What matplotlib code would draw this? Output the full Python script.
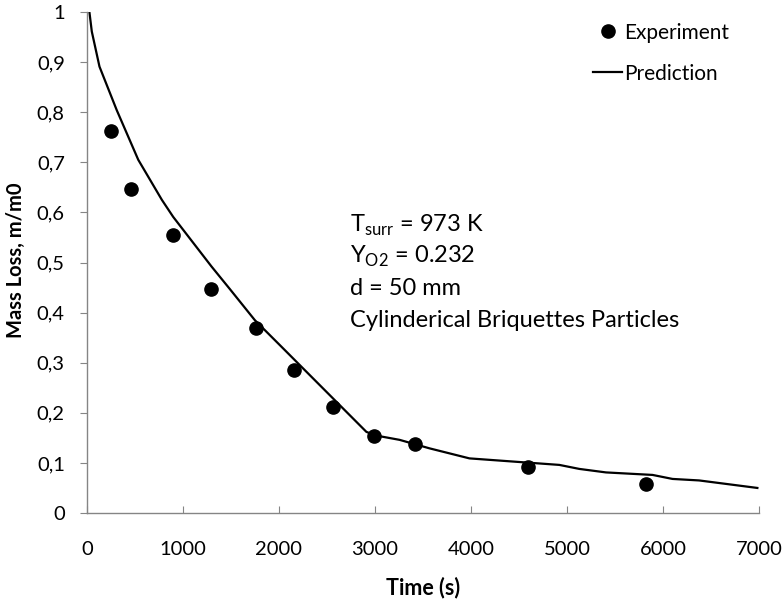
import matplotlib
matplotlib.use("Agg")
import matplotlib.pyplot as plt

plt.rcParams["font.family"] = ["Lato", "DejaVu Sans"]
plt.rcParams["mathtext.fontset"] = "custom"
plt.rcParams["mathtext.rm"] = "Lato"

# experimental points
exp_time = [247, 458, 895, 1290, 1758, 2154, 2560, 2986, 3413, 4589, 5824]
exp_mass = [0.762, 0.647, 0.555, 0.447, 0.369, 0.285, 0.212, 0.154, 0.138, 0.092, 0.057]

# model curve
pred_time = [25, 50, 130, 310, 534, 780, 898, 1297, 1488, 1748, 2025, 2910, 3000,
             3256, 3569, 3984, 4920, 5128, 5406, 5891, 6099, 6376, 6983]
pred_mass = [1.0, 0.961, 0.891, 0.804, 0.705, 0.625, 0.591, 0.492, 0.447, 0.385, 0.332, 0.162, 0.155,
             0.146, 0.129, 0.109, 0.096, 0.088, 0.081, 0.076, 0.068, 0.065, 0.050]

x_ticks = [0, 1000, 2000, 3000, 4000, 5000, 6000, 7000]
y_ticks = [0, 0.1, 0.2, 0.3, 0.4, 0.5, 0.6, 0.7, 0.8, 0.9, 1.0]
y_labels = ["0", "0,1", "0,2", "0,3", "0,4", "0,5", "0,6", "0,7", "0,8", "0,9", "1"]

W, H = 784, 600
fig = plt.figure(figsize=(W / 100, H / 100), dpi=100)
ax = fig.add_axes([87 / W, 1 - 513 / H, (759 - 87) / W, (513 - 12) / H])

ax.plot(exp_time, exp_mass, "o", color="black", markersize=9.5, label="Experiment", zorder=3)
ax.plot(pred_time, pred_mass, "-", color="black", linewidth=1.6, label="Prediction")

ax.set_xlim(0, 7000)
ax.set_ylim(0, 1)
ax.set_xticks(x_ticks)
ax.set_xticklabels([str(t) for t in x_ticks])
ax.set_yticks(y_ticks)
ax.set_yticklabels(y_labels)

for s in ["top", "right"]:
    ax.spines[s].set_visible(False)
for s in ["left", "bottom"]:
    ax.spines[s].set_color("#858585")
    ax.spines[s].set_linewidth(1.0)

ax.tick_params(axis="x", direction="in", length=5, color="#858585", pad=20, labelsize=14.5)
ax.tick_params(axis="y", direction="out", length=5, color="#858585", pad=11, labelsize=14.5)

fig.text(423 / W, 1 - 588 / H, "Time (s)", ha="center", va="center",
         fontsize=15.5, fontweight="bold")
fig.text(16 / W, 1 - 260 / H, "Mass Loss, m/m0", ha="center", va="center",
         rotation=90, fontsize=14.5, fontweight="bold")

# conditions text
notes = [r"T$_{\rm surr}$ = 973 K", r"Y$_{\rm O2}$ = 0.232", "d = 50 mm",
         "Cylinderical Briquettes Particles"]
baselines = [232, 263, 295, 327]
for txt, yb in zip(notes, baselines):
    fig.text(350 / W, 1 - yb / H, txt, ha="left", va="baseline", fontsize=17)

ax.legend(loc="upper right", bbox_to_anchor=(748 / W, 1 - 4 / H),
          bbox_transform=fig.transFigure, frameon=False, fontsize=15,
          handlelength=1.4, handletextpad=0.1, labelspacing=1.0)

fig.savefig("out.png", dpi=100)
